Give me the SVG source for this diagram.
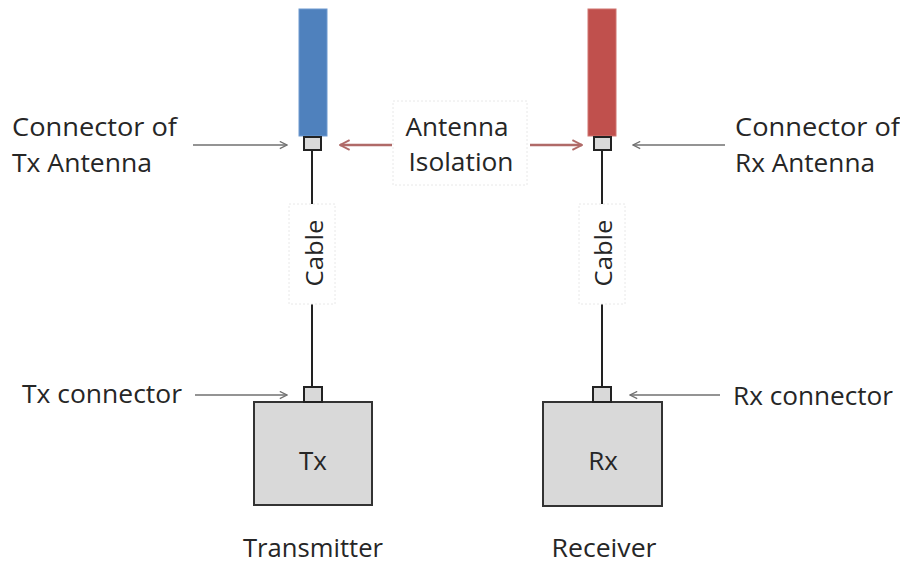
<svg xmlns="http://www.w3.org/2000/svg" width="900" height="563" viewBox="0 0 900 563">
<defs>
<marker id="ga" viewBox="0 0 10 10" refX="9" refY="5" markerWidth="9" markerHeight="9" markerUnits="userSpaceOnUse" orient="auto"><path d="M1,1 L9,5 L1,9" fill="none" stroke="#707070" stroke-width="1.4"/></marker>
<marker id="ra" viewBox="0 0 10 10" refX="9" refY="5" markerWidth="12" markerHeight="12" markerUnits="userSpaceOnUse" orient="auto"><path d="M1,1 L9,5 L1,9" fill="none" stroke="#B06A68" stroke-width="1.6"/></marker>
</defs>
<style>
text{font-family:"Open Sans","Liberation Sans",sans-serif;fill:#262626}
.lbl{font-size:25px}
.box{fill:#D9D9D9;stroke:#333;stroke-width:2}
.con{fill:#D9D9D9;stroke:#222;stroke-width:2}
.wire{stroke:#222;stroke-width:2;fill:none}
.garr{stroke:#707070;stroke-width:1.5;fill:none;marker-end:url(#ga)}
.rarr{stroke:#B06A68;stroke-width:2.5;fill:none;marker-end:url(#ra)}
.tag{fill:#fff;stroke:#e8e8e8;stroke-width:1;stroke-dasharray:2 2}
</style>
<rect width="900" height="563" fill="#fff"/>
<g id="connectors">
<line class="wire" x1="312" y1="150" x2="312" y2="387"/>
<line class="wire" x1="602" y1="150" x2="602" y2="387"/>
<line class="garr" x1="193" y1="145" x2="287" y2="145"/>
<line class="garr" x1="195" y1="395" x2="287" y2="395"/>
<line class="garr" x1="725" y1="145" x2="633" y2="145"/>
<line class="garr" x1="720" y1="395" x2="630" y2="395"/>
<line class="rarr" x1="392" y1="145" x2="340" y2="145"/>
<line class="rarr" x1="530" y1="145" x2="582" y2="145"/>
</g>
<g id="tx-antenna">
<rect x="299" y="9" width="28" height="127" fill="#4F81BD" stroke="#6E9AD0" stroke-width="1"/>
<rect class="con" x="304" y="137" width="17" height="13"/>
</g>
<g id="rx-antenna">
<rect x="588" y="9" width="28" height="127" fill="#C0504D" stroke="#D07470" stroke-width="1"/>
<rect class="con" x="594" y="137" width="17" height="13"/>
</g>
<g id="tx-cable">
<rect class="tag" x="289" y="204" width="46" height="100"/>
<text x="313" y="253" transform="rotate(-90 313 253)" text-anchor="middle" dominant-baseline="central" font-size="24" textLength="67" lengthAdjust="spacingAndGlyphs">Cable</text>
</g>
<g id="rx-cable">
<rect class="tag" x="579" y="204" width="46" height="100"/>
<text x="602" y="253" transform="rotate(-90 602 253)" text-anchor="middle" dominant-baseline="central" font-size="24" textLength="67" lengthAdjust="spacingAndGlyphs">Cable</text>
</g>
<g id="isolation">
<rect class="tag" x="393" y="101" width="134" height="84" stroke="#f0f0f0"/>
<text class="lbl" x="457" y="136" text-anchor="middle" textLength="103" lengthAdjust="spacingAndGlyphs">Antenna</text>
<text class="lbl" x="461" y="171" text-anchor="middle" textLength="105" lengthAdjust="spacingAndGlyphs">Isolation</text>
</g>
<g id="tx-connector-label">
<text class="lbl" x="12" y="136" textLength="165" lengthAdjust="spacingAndGlyphs">Connector of</text>
<text class="lbl" x="12" y="172" textLength="140" lengthAdjust="spacingAndGlyphs">Tx Antenna</text>
</g>
<g id="rx-connector-label">
<text class="lbl" x="735" y="136" textLength="165" lengthAdjust="spacingAndGlyphs">Connector of</text>
<text class="lbl" x="735" y="172" textLength="140" lengthAdjust="spacingAndGlyphs">Rx Antenna</text>
</g>
<g id="tx-connector">
<text class="lbl" x="22" y="403" textLength="160" lengthAdjust="spacingAndGlyphs">Tx connector</text>
</g>
<g id="rx-connector">
<text class="lbl" x="733" y="405" textLength="160" lengthAdjust="spacingAndGlyphs">Rx connector</text>
</g>
<g id="tx">
<rect class="box" x="254" y="402" width="118" height="103"/>
<rect class="con" x="304" y="387" width="18" height="15"/>
<text x="313" y="470" text-anchor="middle" font-size="26">Tx</text>
<text class="lbl" x="313" y="557" text-anchor="middle" textLength="140" lengthAdjust="spacingAndGlyphs">Transmitter</text>
</g>
<g id="rx">
<rect class="box" x="543" y="402" width="119" height="104"/>
<rect class="con" x="593" y="387" width="18" height="15"/>
<text x="603" y="470" text-anchor="middle" font-size="26">Rx</text>
<text class="lbl" x="604" y="557" text-anchor="middle" textLength="105" lengthAdjust="spacingAndGlyphs">Receiver</text>
</g>
</svg>
